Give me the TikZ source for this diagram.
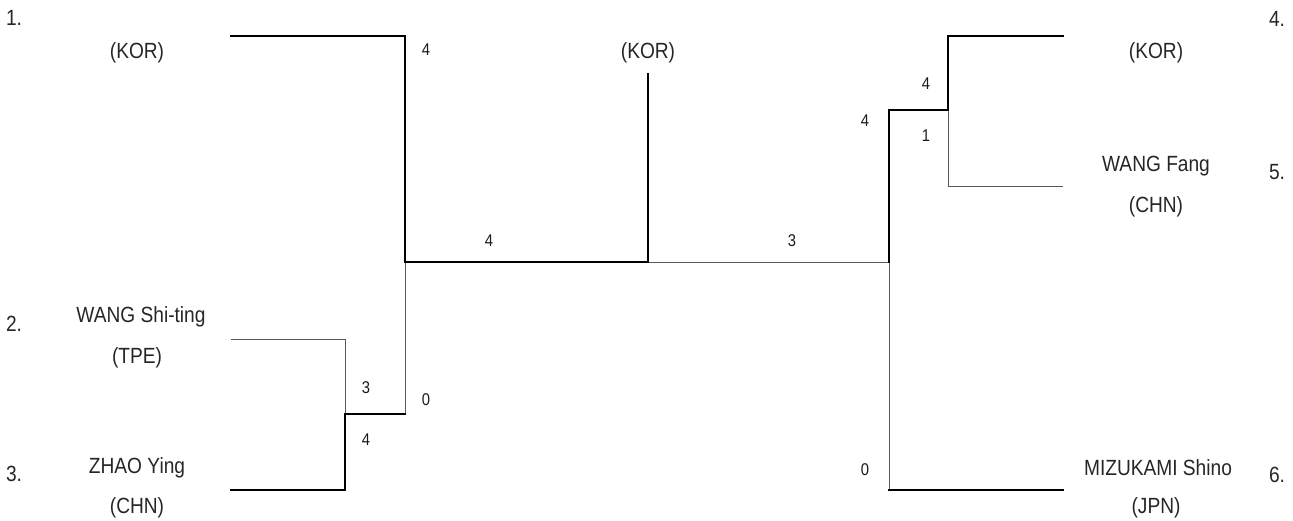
\documentclass[tikz,border=0pt]{standalone}
\usepackage{fontspec}
\setmainfont{Liberation Sans}
\newfontfamily\narrowsans[FakeStretch=0.87]{Liberation Sans}
\begin{document}
\begin{tikzpicture}[x=1pt,y=-1pt,
  winline/.style={line width=2pt,black,line cap=rect},
  loseline/.style={line width=1pt,black!65},
  pname/.style={font=\narrowsans\fontsize{22}{24}\selectfont,text=black!85,inner sep=0pt},
  pseed/.style={font=\narrowsans\fontsize{22}{24}\selectfont,text=black!85,inner sep=0pt},
  pscore/.style={font=\narrowsans\fontsize{17}{19}\selectfont,text=black!90,inner sep=0pt}]
\useasboundingbox (0,0) rectangle (1293,520);
% coordinates of bracket corners
\coordinate (p1) at (231,36);
\coordinate (a1) at (405,36);
\coordinate (m1) at (405,262);
\coordinate (f)  at (648,262);
\coordinate (fw) at (648,74);
\coordinate (r)  at (889,262);
\coordinate (p2) at (231,339);
\coordinate (b2) at (345,339);
\coordinate (q)  at (345,414);
\coordinate (a2) at (405,414);
\coordinate (p3) at (231,490);
\coordinate (b3) at (345,490);
\coordinate (p4) at (1063,36);
\coordinate (c4) at (948,36);
\coordinate (s)  at (948,110);
\coordinate (r1) at (889,110);
\coordinate (p5) at (1063,186);
\coordinate (c5) at (948,186);
\coordinate (p6) at (1063,490);
\coordinate (r6) at (889,490);
% thin (losing) lines
\draw[loseline] (p2) -- (b2) -- (q);
\draw[loseline] (a2) -- (m1);
\draw[loseline] (f) -- (r);
\draw[loseline] (r) -- (r6);
\draw[loseline] (s) -- (c5) -- (p5);
% thick (winning) lines
\draw[winline] (p1) -- (a1) -- (m1) -- (f) -- (fw);
\draw[winline] (p3) -- (b3) -- (q) -- (a2);
\draw[winline] (p4) -- (c4) -- (s) -- (r1) -- (r);
\draw[winline] (p6) -- (r6);
% seeds
\node[pseed] (n1) at (14,18) {1.};
\node[pseed] (n2) at (14,324) {2.};
\node[pseed] (n3) at (14,474) {3.};
\node[pseed] (n4) at (1277,19) {4.};
\node[pseed] (n5) at (1277,172) {5.};
\node[pseed] (n6) at (1277,475) {6.};
% names
\node[pname] (k1) at (137,53) {(KOR)};
\node[pname] (w1) at (141,317) {WANG Shi-ting};
\node[pname] (t1) at (137,358) {(TPE)};
\node[pname] (z1) at (137,468) {ZHAO Ying};
\node[pname] (c1) at (137,508) {(CHN)};
\node[pname] (kf) at (648,53) {(KOR)};
\node[pname] (k4) at (1156,53) {(KOR)};
\node[pname] (w5) at (1156,166) {WANG Fang};
\node[pname] (c5n) at (1156,207) {(CHN)};
\node[pname] (m6) at (1158,468) {MIZUKAMI Shino};
\node[pname] (j6) at (1156,508) {(JPN)};
% scores
\node[pscore] (sa) at (426,50) {4};
\node[pscore] (sb) at (489,241) {4};
\node[pscore] (sc) at (792,241) {3};
\node[pscore] (sd) at (366,388) {3};
\node[pscore] (se) at (366,440) {4};
\node[pscore] (sf) at (426,400) {0};
\node[pscore] (sg) at (865,121) {4};
\node[pscore] (sh) at (926,84) {4};
\node[pscore] (si) at (926,136) {1};
\node[pscore] (sj) at (865,470) {0};
\end{tikzpicture}
\end{document}
